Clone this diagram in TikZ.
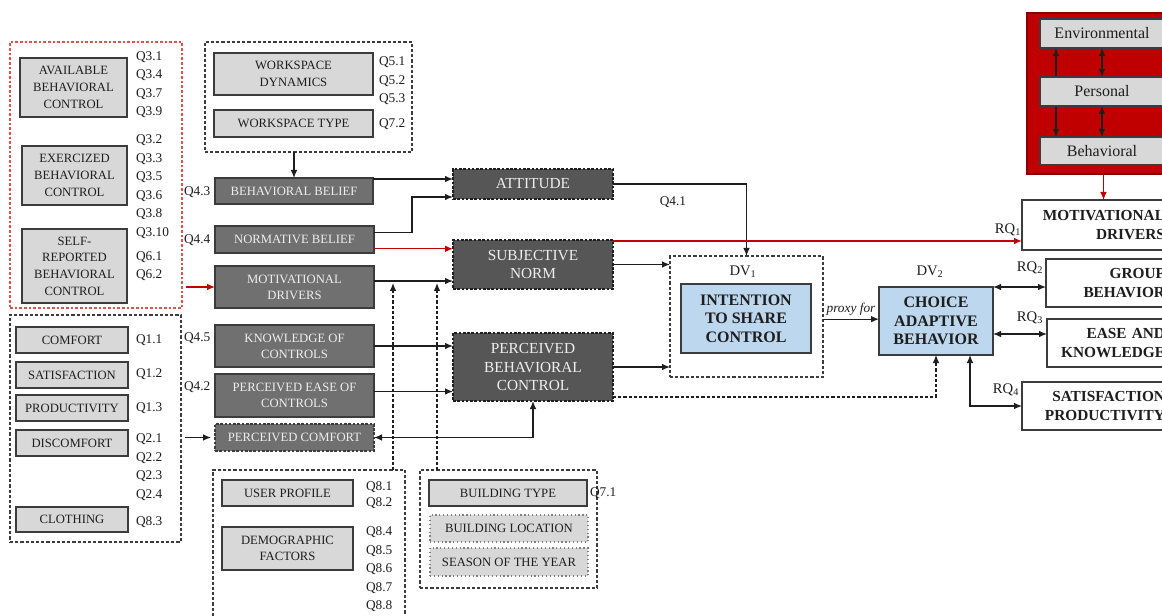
\documentclass[tikz,border=0pt]{standalone}
\usepackage{fontspec}
\setmainfont{Liberation Serif}
\usetikzlibrary{arrows.meta,calc}
\definecolor{lg}{HTML}{D8D8D8}
\definecolor{bd}{HTML}{3C3C3C}
\definecolor{dg}{HTML}{707070}
\definecolor{cg}{HTML}{565656}
\definecolor{tx}{HTML}{EEEEEE}
\definecolor{bl}{HTML}{BDD7EE}
\definecolor{rd}{HTML}{C00000}
\definecolor{rdl}{HTML}{D9534F}
\definecolor{ink}{HTML}{1E1E1E}
\newcommand{\fsz}[2]{\fontsize{#1}{#2}\selectfont}
\newcommand{\mybox}[7]{\node[#2, minimum width={(#5-#3)*0.75pt}, minimum height={(#6-#4)*0.75pt}] (#1) at ({(#3+#5)/2},{(#4+#6)/2}) {#7};}
\begin{document}
\begin{tikzpicture}[x=0.75pt,y=-0.75pt,
  every node/.style={inner sep=0pt, outer sep=0pt, text=ink},
  lbox/.style={fill=lg, draw=bd, line width=0.9pt, align=center, font=\fsz{9.5}{12.5}},
  lboxdot/.style={fill=lg, draw=gray, line width=0.9pt, dotted, align=center, font=\fsz{9.5}{12.5}},
  dbox/.style={fill=dg, draw=bd, line width=0.9pt, align=center, text=tx, font=\fsz{9.5}{12}},
  cbox/.style={fill=cg, draw=ink, line width=0.9pt, dash pattern=on 2pt off 1.2pt, align=center, text=tx, font=\fsz{11.5}{14}},
  bbox/.style={fill=bl, draw=bd, line width=1pt, align=center, font=\bfseries\fsz{12}{14}},
  rbox/.style={fill=white, draw=bd, line width=0.9pt, align=right, inner xsep=5.25pt, font=\bfseries\fsz{11.5}{14}},
  sbox/.style={fill=lg, draw=bd, line width=0.8pt, font=\fsz{12}{14}},
  grp/.style={draw=bd, line width=0.9pt, dash pattern=on 2.4pt off 1.5pt},
  rgrp/.style={draw=rdl, line width=0.9pt, dash pattern=on 2pt off 1.5pt},
  ql/.style={anchor=west, align=left, font=\fsz{10}{13.9}},
  lab/.style={font=\fsz{10}{12}},
  arr/.style={draw=ink, line width=0.95pt, -{Latex[length=6pt,width=5pt]}},
  arrb/.style={draw=ink, line width=0.95pt, {Latex[length=6pt,width=5pt]}-{Latex[length=6pt,width=5pt]}},
  rarr/.style={draw=rd, line width=0.95pt, -{Latex[length=6pt,width=5pt]}},
  darr/.style={draw=ink, line width=0.95pt, dash pattern=on 2.4pt off 1.5pt, -{Latex[length=6pt,width=5pt]}},
]
\fill[white] (0,0) rectangle (1162,616);
\useasboundingbox (0,0) rectangle (1162,616);
\clip (0,0) rectangle (1162,616);

% groups
\mybox{rgrpn}{rgrp}{10}{42}{182}{308}{}
\mybox{cgrp}{grp}{10}{315}{181}{542}{}
\mybox{wgrp}{grp}{205}{42}{412}{152}{}
\mybox{ugrp}{grp}{213}{470}{405}{640}{}
\mybox{bgrp}{grp}{420}{470}{597}{588}{}

% light boxes
\mybox{avb}{lbox}{20}{58}{127}{117}{AVAILABLE\\BEHAVIORAL\\CONTROL}
\mybox{exb}{lbox}{22}{146}{127}{205}{EXERCIZED\\BEHAVIORAL\\CONTROL}
\mybox{srb}{lbox}{22}{229}{127}{303}{SELF-\\REPORTED\\BEHAVIORAL\\CONTROL}
\mybox{comf}{lbox}{16}{327}{128}{353}{COMFORT}
\mybox{sat}{lbox}{16}{362}{128}{388}{SATISFACTION}
\mybox{prod}{lbox}{16}{395}{128}{421}{PRODUCTIVITY}
\mybox{disc}{lbox}{16}{430}{128}{456}{DISCOMFORT}
\mybox{cloth}{lbox}{16}{507}{128}{532}{CLOTHING}
\mybox{wsd}{lbox}{214}{53}{373}{95}{WORKSPACE\\DYNAMICS}
\mybox{wst}{lbox}{214}{110}{373}{137}{WORKSPACE TYPE}
\mybox{up}{lbox}{222}{480}{353}{506}{USER PROFILE}
\mybox{demo}{lbox}{222}{527}{353}{570}{DEMOGRAPHIC\\FACTORS}
\mybox{bt}{lbox}{429}{480}{587}{506}{BUILDING TYPE}
\mybox{bloc}{lboxdot}{430}{515}{588}{542}{BUILDING LOCATION}
\mybox{sy}{lboxdot}{430}{548}{588}{576}{SEASON OF THE YEAR}

% question labels
\node[ql] (qa) at (136,84.5) {Q3.1\\Q3.4\\Q3.7\\Q3.9};
\node[ql] (qb) at (136,186.5) {Q3.2\\Q3.3\\Q3.5\\Q3.6\\Q3.8\\Q3.10};
\node[ql] (qc) at (136,266) {Q6.1\\Q6.2};
\node[ql] (qd) at (136,340) {Q1.1};
\node[ql] (qe) at (136,374) {Q1.2};
\node[ql] (qf) at (136,408) {Q1.3};
\node[ql] (qg) at (136,467) {Q2.1\\Q2.2\\Q2.3\\Q2.4};
\node[ql] (qh) at (136,522) {Q8.3};
\node[ql] (qi) at (379,81) {Q5.1\\Q5.2\\Q5.3};
\node[ql] (qj) at (379,124) {Q7.2};
\node[ql] (qk) at (184,192) {Q4.3};
\node[ql] (ql4) at (184,240) {Q4.4};
\node[ql] (qm) at (184,338) {Q4.5};
\node[ql] (qn) at (184,387) {Q4.2};
\node[ql, font=\fsz{10}{12.5}] (qo) at (366,495) {Q8.1\\Q8.2};
\node[ql] (qp) at (366,569.5) {Q8.4\\Q8.5\\Q8.6\\Q8.7\\Q8.8};
\node[ql] (qq) at (590,493) {Q7.1};
\node[lab] (q41) at (673,202) {Q4.1};

% dark left boxes
\mybox{bb}{dbox}{215}{178}{373}{204}{BEHAVIORAL BELIEF}
\mybox{nb}{dbox}{215}{226}{374}{253}{NORMATIVE BELIEF}
\mybox{md}{dbox}{215}{266}{374}{308}{MOTIVATIONAL\\DRIVERS}
\mybox{koc}{dbox}{215}{325}{374}{367}{KNOWLEDGE OF\\CONTROLS}
\mybox{peoc}{dbox}{215}{374}{374}{417}{PERCEIVED EASE OF\\CONTROLS}
\mybox{pc}{dbox, dash pattern=on 2pt off 1.2pt}{215}{424}{374}{451}{PERCEIVED COMFORT}

% centre boxes
\mybox{att}{cbox}{453}{169}{613}{199}{ATTITUDE}
\mybox{sn}{cbox}{453}{240}{613}{289}{SUBJECTIVE\\NORM}
\mybox{pbc}{cbox}{453}{333}{613}{401}{PERCEIVED\\BEHAVIORAL\\CONTROL}

% DV boxes
\mybox{dv1}{grp}{670}{256}{823}{377}{}
\mybox{itsc}{bbox}{681}{284}{811}{353}{INTENTION\\TO SHARE\\CONTROL}
\mybox{cab}{bbox}{879}{287}{993}{355}{CHOICE\\ADAPTIVE\\BEHAVIOR}
\node[font=\fsz{11}{12}] (dv1l) at (743,272) {DV\textsubscript{1}};
\node[font=\fsz{11}{12}] (dv2l) at (930,272) {DV\textsubscript{2}};

% right boxes
\mybox{rmd}{rbox, text width=102pt}{1022}{200}{1172}{250}{MOTIVATIONAL\\DRIVERS}
\mybox{rgb}{rbox, text width=84pt}{1046}{259}{1172}{307}{GROUP\\BEHAVIOR}
\mybox{rek}{rbox, text width=83.25pt}{1047}{319}{1172}{367}{EASE AND\\KNOWLEDGE}
\mybox{rsp}{rbox, text width=102pt}{1022}{382}{1172}{430}{SATISFACTION\\PRODUCTIVITY}
\node[font=\fsz{11}{12}] (rq1) at (1008,230) {RQ\textsubscript{1}};
\node[font=\fsz{11}{12}] (rq2) at (1030,268) {RQ\textsubscript{2}};
\node[font=\fsz{11}{12}] (rq3) at (1030,318) {RQ\textsubscript{3}};
\node[font=\fsz{11}{12}] (rq4) at (1006,390) {RQ\textsubscript{4}};

% red box top right
\mybox{rbg}{fill=rd, draw=rd!70!black, line width=0.8pt}{1027}{13}{1180}{174}{}
\mybox{env}{sbox}{1040}{19}{1164}{48}{Environmental}
\mybox{beh}{sbox}{1040}{137}{1164}{165}{Behavioral}
\coordinate (e1) at ([xshift=12pt]env.south west);
\draw[arrb] (e1) -- (e1 |- beh.north);
\mybox{pers}{sbox}{1040}{77}{1164}{106}{Personal}
\draw[arrb] (env.south) -- (pers.north);
\draw[arrb] (pers.south) -- (beh.north);
\draw[rarr] (rbg.south) -- (rbg.south |- rmd.north);

% connectors left
\draw[rarr] ([xshift=3pt]rgrpn.east |- md.west) -- (md.west);
\draw[arr] ([xshift=3pt]cgrp.east |- pc.west) -- ([xshift=-3pt]pc.west);
\draw[arr] (bb.north |- wgrp.south) -- (bb.north);
\coordinate (c1) at ([yshift=-0.75pt]bb.north east);
\draw[arr] (c1) -- (c1 -| att.west);
\coordinate (c2) at ([yshift=5pt]nb.east);
\draw[arr] (c2) -- ++(38,0) |- ([yshift=1.5pt]att.south west);
\coordinate (c3) at ([yshift=-7pt]nb.east);
\draw[rarr] (c3) -- (c3 -| sn.west);
\coordinate (c4) at ([yshift=4.5pt]md.east);
\draw[arr] (c4) -- (c4 -| sn.west);
\coordinate (d1) at ([xshift=-9pt]ugrp.north east);
\draw[darr] (d1) -- ([yshift=-1.5pt]d1 |- c4);
\coordinate (d2) at ([xshift=12.75pt]bgrp.north west);
\draw[darr] (d2) -- ([yshift=-1.5pt]d2 |- c4);
\draw[arr] (koc.east) -- (koc.east -| pbc.west);
\coordinate (c8) at ([yshift=3pt]peoc.east);
\draw[arr] (c8) -- (c8 -| pbc.west);
\draw[arrb] (pbc.south) |- (pc.east);

% connectors centre / right
\draw[arr] (att.east) -| (dv1.north);
\coordinate (c5) at ([yshift=-0.75pt]sn.north east);
\draw[rarr] (c5) -- (c5 -| rmd.west);
\draw[arr] (sn.east) -- (sn.east -| dv1.west);
\draw[arr] (pbc.east) -- (pbc.east -| dv1.west);
\coordinate (c6) at ([yshift=3pt]pbc.south east);
\draw[darr] (c6) -| (cab.south);
\coordinate (c9) at ([yshift=-2pt]dv1.east);
\draw[arr] (c9) -- node[above=3pt, font=\itshape\fsz{10}{12}] {proxy for} (c9 -| cab.west);
\coordinate (c10) at ([yshift=-3pt]rgb.west);
\draw[arrb] (c10 -| cab.east) -- (c10);
\coordinate (c11) at ([yshift=6.75pt]rek.west);
\draw[arrb] (c11 -| cab.east) -- (c11);
\coordinate (c7) at ([xshift=25.5pt]cab.south);
\draw[arrb] (c7) |- (rsp.west);
\end{tikzpicture}
\end{document}
